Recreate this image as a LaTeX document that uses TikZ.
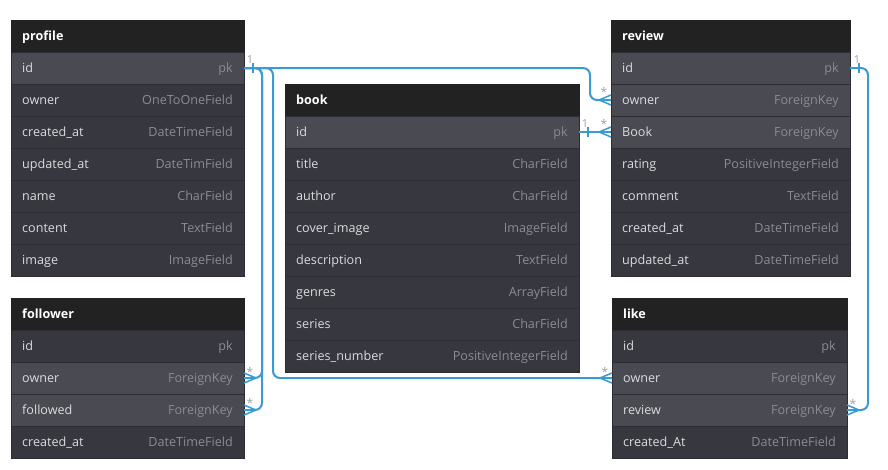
\documentclass[tikz,border=0pt]{standalone}
\usepackage{fontspec}
\setmainfont{Open Sans}
\usetikzlibrary{calc}
\definecolor{hdr}{HTML}{222222}
\definecolor{rowN}{HTML}{36373F}
\definecolor{rowH}{HTML}{494A52}
\definecolor{sep}{HTML}{2C2D34}
\definecolor{ftxt}{HTML}{DCDCDC}
\definecolor{ttxt}{HTML}{8C8C90}
\definecolor{lnk}{HTML}{3A9AD6}
\definecolor{lbl}{HTML}{A0A0A0}
\tikzset{
  rowbox/.style={draw=sep, line width=0.6pt, minimum height=32pt, inner sep=0pt, outer sep=0pt, anchor=north west},
  hdrbox/.style={fill=hdr, draw=hdr, line width=0.6pt, minimum height=32pt, inner sep=0pt, outer sep=0pt, anchor=north west},
  fieldtxt/.style={inner sep=0pt, text=ftxt, font=\fontsize{12.6}{14}\selectfont, text height=8.9pt, text depth=0.6pt, anchor=west},
  typetxt/.style={fieldtxt, text=ttxt, anchor=east},
  hdrtxt/.style={fieldtxt, text=white, font=\fontsize{12.6}{14}\selectfont\bfseries},
  conn/.style={draw=lnk, line width=2pt, rounded corners=7pt},
  tickmark/.style={draw=lnk, line width=1.5pt},
  onelbl/.style={inner sep=0pt, text=lbl, font=\fontsize{11}{11}\selectfont},
  manylbl/.style={inner sep=0pt, text=lbl, font=\fontsize{12}{12}\selectfont},
  crowL/.pic={\draw[draw=lnk, line width=1.5pt] (-12,0) -- (0,-5) (-12,0) -- (0,5);},
  crowR/.pic={\draw[draw=lnk, line width=1.5pt] (12,0) -- (0,-5) (12,0) -- (0,5);},
}
% #1 node name, #2 x, #3 y, #4 width, #5 field, #6 type, #7 fill
\newcommand\erow[7]{%
  \node[rowbox, fill=#7, minimum width=#4pt] (#1) at (#2,#3) {};
  \node[fieldtxt] (#1-f) at ([xshift=11pt]#1.west) {#5};
  \node[typetxt] (#1-t) at ([xshift=-11pt]#1.east) {#6};
}
% #1 name, #2 x, #3 y, #4 width, #5 title
\newcommand\ehead[5]{%
  \node[hdrbox, minimum width=#4pt] (#1) at (#2,#3) {};
  \node[hdrtxt] (#1-h) at ([xshift=11pt]#1.west) {#5};
}
\begin{document}
\begin{tikzpicture}[x=1pt, y=-1pt]
\fill[white] (0,0) rectangle (888,469);
\useasboundingbox (0,0) rectangle (888,469);

% profile
\ehead{profile}{11}{20}{233}{profile}
\erow{profile-id}{11}{52}{233}{id}{pk}{rowH}
\erow{profile-owner}{11}{84}{233}{owner}{OneToOneField}{rowN}
\erow{profile-created}{11}{116}{233}{created\_at}{DateTimeField}{rowN}
\erow{profile-updated}{11}{148}{233}{updated\_at}{DateTimField}{rowN}
\erow{profile-name}{11}{180}{233}{name}{CharField}{rowN}
\erow{profile-content}{11}{212}{233}{content}{TextField}{rowN}
\erow{profile-image}{11}{244}{233}{image}{ImageField}{rowN}

% follower
\ehead{follower}{11}{298}{233}{follower}
\erow{follower-id}{11}{330}{233}{id}{pk}{rowN}
\erow{follower-owner}{11}{362}{233}{owner}{ForeignKey}{rowH}
\erow{follower-followed}{11}{394}{233}{followed}{ForeignKey}{rowH}
\erow{follower-created}{11}{426}{233}{created\_at}{DateTimeField}{rowN}

% book
\ehead{book}{285}{84}{294}{book}
\erow{book-id}{285}{116}{294}{id}{pk}{rowH}
\erow{book-title}{285}{148}{294}{title}{CharField}{rowN}
\erow{book-author}{285}{180}{294}{author}{CharField}{rowN}
\erow{book-cover}{285}{212}{294}{cover\_image}{ImageField}{rowN}
\erow{book-desc}{285}{244}{294}{description}{TextField}{rowN}
\erow{book-genres}{285}{276}{294}{genres}{ArrayField}{rowN}
\erow{book-series}{285}{308}{294}{series}{CharField}{rowN}
\erow{book-seriesnum}{285}{340}{294}{series\_number}{PositiveIntegerField}{rowN}

% review
\ehead{review}{611}{20}{239}{review}
\erow{review-id}{611}{52}{239}{id}{pk}{rowH}
\erow{review-owner}{611}{84}{239}{owner}{ForeignKey}{rowH}
\erow{review-book}{611}{116}{239}{Book}{ForeignKey}{rowH}
\erow{review-rating}{611}{148}{239}{rating}{PositiveIntegerField}{rowN}
\erow{review-comment}{611}{180}{239}{comment}{TextField}{rowN}
\erow{review-created}{611}{212}{239}{created\_at}{DateTimeField}{rowN}
\erow{review-updated}{611}{244}{239}{updated\_at}{DateTimeField}{rowN}

% like
\ehead{like}{612}{298}{235}{like}
\erow{like-id}{612}{330}{235}{id}{pk}{rowN}
\erow{like-owner}{612}{362}{235}{owner}{ForeignKey}{rowH}
\erow{like-review}{612}{394}{235}{review}{ForeignKey}{rowH}
\erow{like-created}{612}{426}{235}{created\_At}{DateTimeField}{rowN}

% connectors
\draw[conn] (profile-id.east) -| ($(review-owner.west)+(-21,0)$) -- (review-owner.west);
\draw[conn] (profile-id.east) -| ($(follower-owner.east)+(18,0)$) -- (follower-owner.east);
\draw[conn] (profile-id.east) -| ($(follower-followed.east)+(18,0)$) -- (follower-followed.east);
\draw[conn] (profile-id.east) -| ($(like-owner.west)+(-339,0)$) -- (like-owner.west);
\draw[conn] (book-id.east) -- (review-book.west);
\draw[conn] (review-id.east) -| ($(like-review.east)+(21,0)$) -- (like-review.east);

% crow's feet
\pic at (review-owner.west) {crowL};
\pic at (review-book.west) {crowL};
\pic at (like-owner.west) {crowL};
\pic at (follower-owner.east) {crowR};
\pic at (follower-followed.east) {crowR};
\pic at (like-review.east) {crowR};

% one-ticks
\draw[tickmark] ([xshift=9pt]profile-id.east) ++(0,-5) -- ++(0,10);
\draw[tickmark] ([xshift=9pt]book-id.east) ++(0,-5) -- ++(0,10);
\draw[tickmark] ([xshift=9pt]review-id.east) ++(0,-5) -- ++(0,10);

% labels
\node[onelbl] (l-profile) at (250,60) {1};
\node[onelbl] (l-book) at (585,124) {1};
\node[onelbl] (l-review) at (857,60) {1};
\node[manylbl] (m-rowner) at (604,92) {*};
\node[manylbl] (m-rbook) at (604,124) {*};
\node[manylbl] (m-fowner) at (250,372) {*};
\node[manylbl] (m-ffollowed) at (250,403) {*};
\node[manylbl] (m-lowner) at (605,372) {*};
\node[manylbl] (m-lreview) at (853,404) {*};
\end{tikzpicture}
\end{document}
